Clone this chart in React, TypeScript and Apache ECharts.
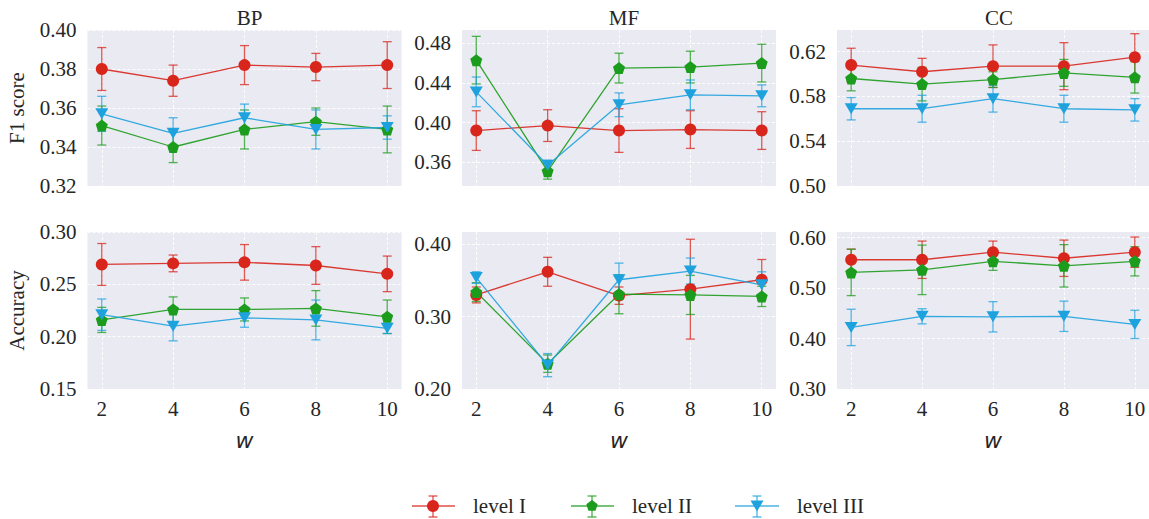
import React, { useEffect, useRef } from 'react';
import * as echarts from 'echarts';

const W = [2, 4, 6, 8, 10];
const LEVELS = ['level I', 'level II', 'level III'];
const COLORS = ['#d8261c', '#1c9c1c', '#1ea2de'];
const TITLES = ['BP', 'MF', 'CC'];
const ROW_NAMES = ['F1 score', 'Accuracy'];

// F1 score: means and half-widths of the error bars (level I, II, III)
const bpF1Mean = [
  [0.380, 0.374, 0.382, 0.381, 0.382],
  [0.351, 0.340, 0.349, 0.353, 0.349],
  [0.357, 0.347, 0.355, 0.349, 0.350],
];
const bpF1Err = [
  [0.011, 0.008, 0.010, 0.007, 0.012],
  [0.010, 0.008, 0.010, 0.007, 0.012],
  [0.009, 0.008, 0.007, 0.010, 0.006],
];
const mfF1Mean = [
  [0.392, 0.397, 0.392, 0.393, 0.392],
  [0.463, 0.351, 0.455, 0.456, 0.460],
  [0.431, 0.357, 0.418, 0.428, 0.427],
];
const mfF1Err = [
  [0.020, 0.016, 0.022, 0.019, 0.019],
  [0.024, 0.008, 0.015, 0.016, 0.019],
  [0.015, 0.005, 0.012, 0.015, 0.011],
];
const ccF1Mean = [
  [0.608, 0.602, 0.607, 0.607, 0.615],
  [0.596, 0.591, 0.595, 0.601, 0.597],
  [0.569, 0.569, 0.578, 0.569, 0.568],
];
const ccF1Err = [
  [0.015, 0.012, 0.019, 0.021, 0.021],
  [0.011, 0.015, 0.007, 0.012, 0.014],
  [0.010, 0.012, 0.012, 0.012, 0.010],
];

// Accuracy
const bpAccMean = [
  [0.269, 0.270, 0.271, 0.268, 0.260],
  [0.216, 0.226, 0.226, 0.227, 0.219],
  [0.221, 0.210, 0.218, 0.216, 0.208],
];
const bpAccErr = [
  [0.020, 0.008, 0.017, 0.018, 0.017],
  [0.012, 0.012, 0.011, 0.017, 0.016],
  [0.015, 0.014, 0.009, 0.019, 0.005],
];
const mfAccMean = [
  [0.330, 0.362, 0.329, 0.338, 0.351],
  [0.334, 0.235, 0.331, 0.330, 0.328],
  [0.354, 0.233, 0.351, 0.363, 0.344],
];
const mfAccErr = [
  [0.011, 0.020, 0.012, 0.069, 0.028],
  [0.013, 0.012, 0.027, 0.027, 0.014],
  [0.008, 0.016, 0.023, 0.018, 0.018],
];
const ccAccMean = [
  [0.556, 0.556, 0.571, 0.559, 0.571],
  [0.531, 0.536, 0.553, 0.544, 0.553],
  [0.422, 0.444, 0.443, 0.444, 0.428],
];
const ccAccErr = [
  [0.021, 0.037, 0.022, 0.036, 0.030],
  [0.046, 0.049, 0.018, 0.042, 0.029],
  [0.036, 0.015, 0.030, 0.030, 0.028],
];

// Tick labels
const bpF1Ticks = [0.32, 0.34, 0.36, 0.38, 0.40];
const mfF1Ticks = [0.36, 0.40, 0.44, 0.48];
const ccF1Ticks = [0.50, 0.54, 0.58, 0.62];
const bpAccTicks = [0.15, 0.20, 0.25, 0.30];
const mfAccTicks = [0.20, 0.30, 0.40];
const ccAccTicks = [0.30, 0.40, 0.50, 0.60];

const PANELS = [
  { mean: bpF1Mean, err: bpF1Err, ticks: bpF1Ticks, min: 0.32, max: 0.40 },
  { mean: mfF1Mean, err: mfF1Err, ticks: mfF1Ticks, min: 0.3361, max: 0.4934 },
  { mean: ccF1Mean, err: ccF1Err, ticks: ccF1Ticks, min: 0.50, max: 0.6393 },
  { mean: bpAccMean, err: bpAccErr, ticks: bpAccTicks, min: 0.15, max: 0.30 },
  { mean: mfAccMean, err: mfAccErr, ticks: mfAccTicks, min: 0.20, max: 0.417 },
  { mean: ccAccMean, err: ccAccErr, ticks: ccAccTicks, min: 0.30, max: 0.611 },
];

const SERIF = "'Liberation Serif', 'DejaVu Serif', serif";
const TEXT = '#262626';
const BG = '#eaeaf2';
const PENTAGON = 'path://M0,-1 L0.951,-0.309 L0.588,0.809 L-0.588,0.809 L-0.951,-0.309 Z';
const SYMBOLS = ['circle', PENTAGON, 'triangle'];
const SYMBOL_SIZES: any[] = [12, 12, [13, 11]];

const COL_LEFT = [87.5, 462, 837];
const COL_W = 314;
const ROW_TOP = [30, 232];
const ROW_H = [156, 157];

function buildOption() {
  const grid: any[] = [];
  const xAxis: any[] = [];
  const yAxis: any[] = [];
  const series: any[] = [];
  const title: any[] = [];

  const gridLine = { show: true, lineStyle: { color: '#ffffff', type: [3, 2], width: 0.9 } };

  PANELS.forEach((p, i) => {
    const row = Math.floor(i / 3);
    const col = i % 3;
    grid.push({
      left: COL_LEFT[col], top: ROW_TOP[row], width: COL_W, height: ROW_H[row],
      show: true, backgroundColor: BG, borderWidth: 0, containLabel: false,
    });
    xAxis.push({
      gridIndex: i, type: 'value', min: 1.6, max: 10.4,
      axisLine: { show: false },
      axisTick: { show: false, customValues: W },
      axisLabel: {
        show: row === 1, customValues: W, fontFamily: SERIF, fontSize: 21, color: TEXT, margin: 9,
        formatter: (v: number) => String(v),
      },
      splitLine: gridLine,
      name: row === 1 ? 'w' : '',
      nameLocation: 'middle', nameGap: 40,
      nameTextStyle: { fontFamily: "'DejaVu Sans', sans-serif", fontStyle: 'italic', fontSize: 22, color: TEXT },
    });
    yAxis.push({
      gridIndex: i, type: 'value', min: p.min, max: p.max,
      axisLine: { show: false },
      axisTick: { show: false, customValues: p.ticks },
      axisLabel: {
        customValues: p.ticks, fontFamily: SERIF, fontSize: 21, color: TEXT, margin: 11,
        formatter: (v: number) => v.toFixed(2),
      },
      splitLine: gridLine,
      name: col === 0 ? ROW_NAMES[row] : '',
      nameLocation: 'middle', nameGap: 60,
      nameTextStyle: { fontFamily: SERIF, fontSize: 21, color: TEXT },
    });
    if (row === 0) {
      title.push({
        text: TITLES[col], left: COL_LEFT[col] + COL_W / 2, top: 2, textAlign: 'center',
        textStyle: { fontFamily: SERIF, fontSize: 21, fontWeight: 'normal', color: TEXT },
      });
    }
    LEVELS.forEach((name, k) => {
      const color = COLORS[k];
      series.push({
        type: 'custom', name: name + ' err', xAxisIndex: i, yAxisIndex: i,
        data: W.map((w, j) => [w, p.mean[k][j] - p.err[k][j], p.mean[k][j] + p.err[k][j]]),
        encode: { x: 0, y: [1, 2] },
        renderItem: (params: any, api: any) => {
          const x = api.value(0);
          const lo = api.coord([x, api.value(1)]);
          const hi = api.coord([x, api.value(2)]);
          const hw = 4.5;
          const st = { stroke: color, lineWidth: 1.3, opacity: 0.75 };
          return {
            type: 'group',
            children: [
              { type: 'line', shape: { x1: hi[0], y1: hi[1], x2: lo[0], y2: lo[1] }, style: st },
              { type: 'line', shape: { x1: hi[0] - hw, y1: hi[1], x2: hi[0] + hw, y2: hi[1] }, style: st },
              { type: 'line', shape: { x1: lo[0] - hw, y1: lo[1], x2: lo[0] + hw, y2: lo[1] }, style: st },
            ],
          };
        },
      });
      series.push({
        type: 'line', name, xAxisIndex: i, yAxisIndex: i,
        data: W.map((w, j) => [w, p.mean[k][j]]),
        symbol: SYMBOLS[k], symbolSize: SYMBOL_SIZES[k], symbolRotate: k === 2 ? 180 : 0,
        showSymbol: true,
        lineStyle: { color, width: 1.3, opacity: 0.9 },
        itemStyle: { color, opacity: 1 },
        emphasis: { disabled: true },
      });
    });
  });

  // legend drawn as graphic elements
  const LEG = [
    { x0: 412, x1: 455, cx: 433, tx: 473 },
    { x0: 571, x1: 614, cx: 592, tx: 632 },
    { x0: 735, x1: 779, cx: 757, tx: 797 },
  ];
  const ly = 506;
  const graphic: any[] = [];
  LEG.forEach((l, k) => {
    const c = COLORS[k];
    const st = { stroke: c, lineWidth: 1.3, opacity: 0.8 };
    graphic.push({ type: 'line', shape: { x1: l.x0, y1: ly, x2: l.x1, y2: ly }, style: st });
    graphic.push({ type: 'line', shape: { x1: l.cx, y1: ly - 10, x2: l.cx, y2: ly + 11 }, style: st });
    graphic.push({ type: 'line', shape: { x1: l.cx - 4.5, y1: ly - 10, x2: l.cx + 4.5, y2: ly - 10 }, style: st });
    graphic.push({ type: 'line', shape: { x1: l.cx - 4.5, y1: ly + 11, x2: l.cx + 4.5, y2: ly + 11 }, style: st });
    if (k === 0) {
      graphic.push({ type: 'circle', shape: { cx: l.cx, cy: ly, r: 6 }, style: { fill: c } });
    } else if (k === 1) {
      const r = 6;
      const pts = [0, 1, 2, 3, 4].map((n) => {
        const a = -Math.PI / 2 + (n * 2 * Math.PI) / 5;
        return [l.cx + r * Math.cos(a), ly + r * Math.sin(a)];
      });
      graphic.push({ type: 'polygon', shape: { points: pts }, style: { fill: c } });
    } else {
      graphic.push({
        type: 'polygon',
        shape: { points: [[l.cx - 6.5, ly - 5.5], [l.cx + 6.5, ly - 5.5], [l.cx, ly + 5.5]] },
        style: { fill: c },
      });
    }
    graphic.push({
      type: 'text', x: l.tx, y: ly,
      style: { text: LEVELS[k], fontFamily: SERIF, fontSize: 21, fill: TEXT, verticalAlign: 'middle', align: 'left' },
    });
  });

  return { animation: false, backgroundColor: '#ffffff', title, grid, xAxis, yAxis, series, graphic };
}

export default function App() {
  const ref = useRef<HTMLDivElement>(null);
  useEffect(() => {
    if (!ref.current) return;
    const chart = echarts.init(ref.current, null, { renderer: 'svg' });
    chart.setOption(buildOption());
    return () => chart.dispose();
  }, []);
  return (
    <div
      ref={ref}
      style={{ position: 'fixed', left: 0, top: 0, width: 1149, height: 519, background: '#fff' }}
    />
  );
}
